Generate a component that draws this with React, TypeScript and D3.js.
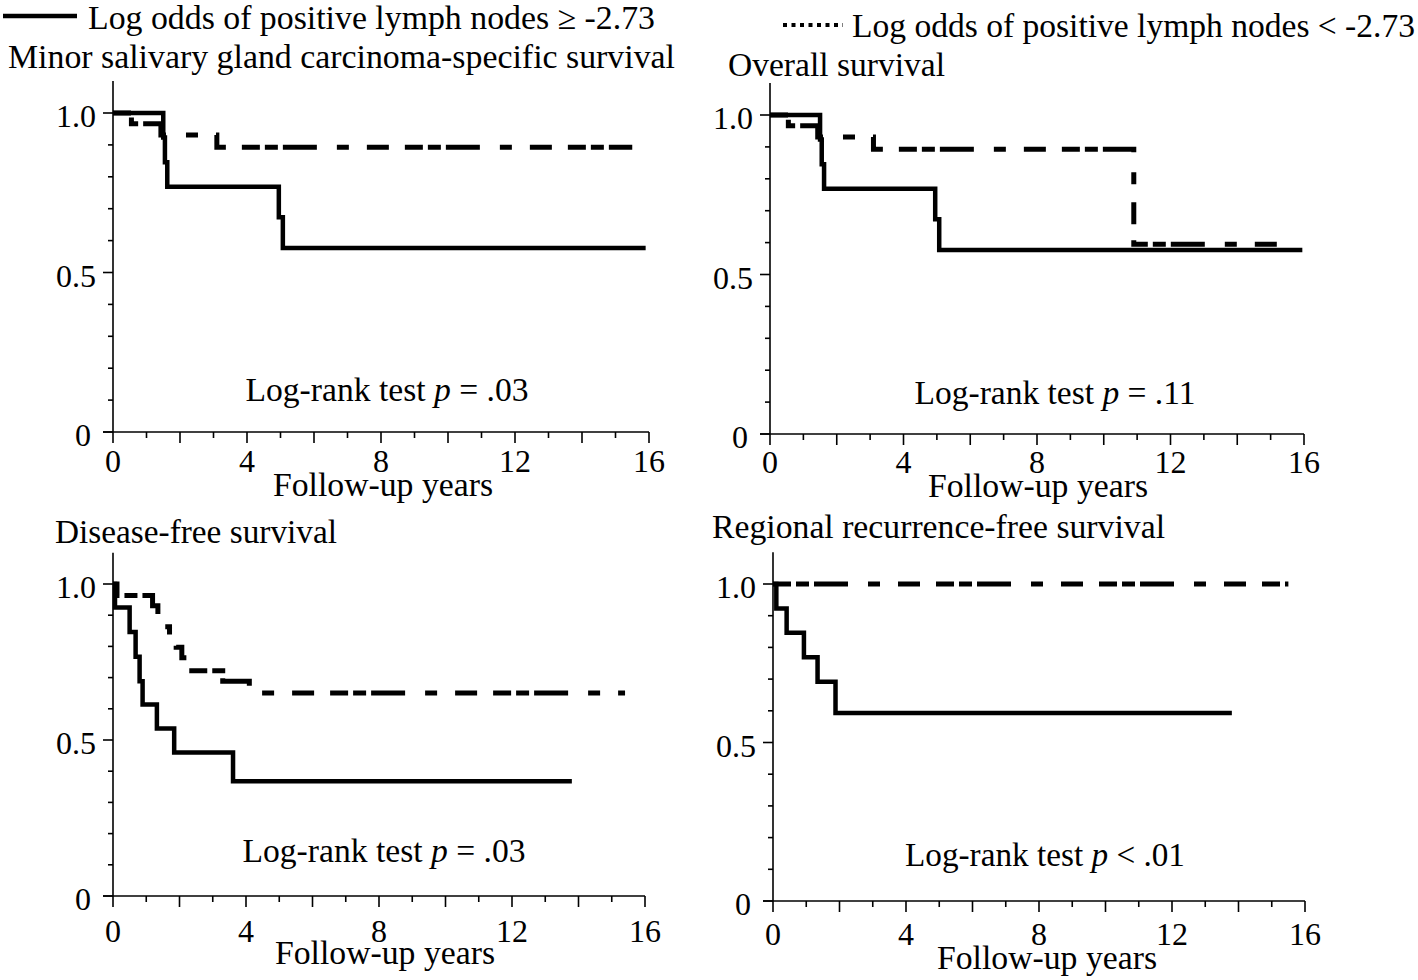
import React from "react";
import * as d3 from "d3";

// ---------- data ----------
const xTicks = d3.range(0, 17, 1);
const xTickLabels = [0, 4, 8, 12, 16];
const yTicks = d3.range(0, 11, 1).map((d) => d / 10);
const yTickLabels = ["0", "0.5", "1.0"];
const yTickLabelValues = [0, 0.5, 1.0];

const legendHigh = "Log odds of positive lymph nodes \u2265 -2.73";
const legendLow = "Log odds of positive lymph nodes < -2.73";

const panelTitles = [
  "Minor salivary gland carcinoma-specific survival",
  "Overall survival",
  "Disease-free survival",
  "Regional recurrence-free survival",
];
const pTexts = ["= .03", "= .11", "= .03", "< .01"];

// Minor salivary gland carcinoma-specific survival
const cssHighT = [0, 1.5, 1.55, 1.62, 4.95, 5.07];
const cssHighS = [1, 0.923, 0.846, 0.769, 0.673, 0.577];
const cssHighEnd = 15.9;
const cssLowT = [0, 0.55, 1.43, 3.1];
const cssLowS = [1, 0.966, 0.931, 0.893];
const cssLowEnd = 15.5;

// Overall survival
const osHighT = [0, 1.5, 1.55, 1.62, 4.95, 5.07];
const osHighS = [1, 0.923, 0.846, 0.769, 0.673, 0.577];
const osHighEnd = 15.95;
const osLowT = [0, 0.55, 1.43, 3.1, 10.9];
const osLowS = [1, 0.966, 0.931, 0.893, 0.595];
const osLowEnd = 15.6;

// Disease-free survival
const dfsHighT = [0, 0.06, 0.5, 0.68, 0.8, 0.89, 1.32, 1.84, 3.61];
const dfsHighS = [1, 0.925, 0.846, 0.767, 0.688, 0.614, 0.537, 0.46, 0.368];
const dfsHighEnd = 13.8;
const dfsLowT = [0, 0.12, 1.19, 1.35, 1.49, 1.7, 1.9, 2.07, 2.28, 3.3, 4.1];
const dfsLowS = [1, 0.963, 0.93, 0.897, 0.863, 0.83, 0.797, 0.764, 0.722, 0.688, 0.651];
const dfsLowEnd = 15.4;

// Regional recurrence-free survival
const rrfsHighT = [0, 0.1, 0.41, 0.93, 1.34, 1.88];
const rrfsHighS = [1, 0.923, 0.846, 0.769, 0.692, 0.593];
const rrfsHighEnd = 13.8;
const rrfsLowT = [0];
const rrfsLowS = [1];
const rrfsLowEnd = 15.5;

const seriesHigh = [
  { t: cssHighT, s: cssHighS, end: cssHighEnd },
  { t: osHighT, s: osHighS, end: osHighEnd },
  { t: dfsHighT, s: dfsHighS, end: dfsHighEnd },
  { t: rrfsHighT, s: rrfsHighS, end: rrfsHighEnd },
];
const seriesLow = [
  { t: cssLowT, s: cssLowS, end: cssLowEnd },
  { t: osLowT, s: osLowS, end: osLowEnd },
  { t: dfsLowT, s: dfsLowS, end: dfsLowEnd },
  { t: rrfsLowT, s: rrfsLowS, end: rrfsLowEnd },
];

// ---------- layout ----------
const layouts = [
  { x0: 113, x16: 649, y0: 432, y1: 113, title: [8, 68, 667], lr: [387, 401, 283], fu: [383, 496], xlab: 40 },
  { x0: 770, x16: 1304, y0: 434, y1: 115, title: [728, 76, 217], lr: [1055, 404, 281], fu: [1038, 497], xlab: 39 },
  { x0: 113, x16: 645, y0: 896, y1: 584, title: [55, 543, 282], lr: [384, 862, 283], fu: [385, 964], xlab: 46 },
  { x0: 773, x16: 1305, y0: 901, y1: 584, title: [712, 538, 453], lr: [1045, 866, 280], fu: [1047, 969], xlab: 44 },
];

const FONT = "'Liberation Serif', 'Times New Roman', Times, serif";
const DASH = "18 5 13 5 34 20 12 18 22 16";
const FS = 33;

function Panel({ i }: { i: number }) {
  const L = layouts[i];
  const x = d3.scaleLinear().domain([0, 16]).range([L.x0, L.x16]);
  const y = d3.scaleLinear().domain([0, 1]).range([L.y0, L.y1]);
  const line = d3
    .line<[number, number]>()
    .x((d) => x(d[0]))
    .y((d) => y(d[1]))
    .curve(d3.curveStepAfter);
  const mk = (ser: { t: number[]; s: number[]; end: number }) => {
    const pts: [number, number][] = ser.t.map((t, k) => [t, ser.s[k]]);
    pts.push([ser.end, ser.s[ser.s.length - 1]]);
    return line(pts) || "";
  };
  return (
    <g>
      <text x={L.title[0]} y={L.title[1]} fontSize={FS} textLength={L.title[2]} lengthAdjust="spacingAndGlyphs">
        {panelTitles[i]}
      </text>
      {/* axes */}
      <line x1={x(0)} x2={x(0)} y1={y(0)} y2={y(1.1)} stroke="#000" strokeWidth={1.6} />
      <line x1={x(0) - 10} x2={x(16)} y1={y(0)} y2={y(0)} stroke="#000" strokeWidth={1.6} />
      {yTicks.map((v) => {
        const major = Math.abs(v * 2 - Math.round(v * 2)) < 1e-6;
        return (
          <line key={"yt" + v} x1={x(0) - (major ? 10 : 5)} x2={x(0)} y1={y(v)} y2={y(v)} stroke="#000" strokeWidth={1.6} />
        );
      })}
      {xTicks.map((v) => (
        <line key={"xt" + v} x1={x(v)} x2={x(v)} y1={y(0)} y2={y(0) + (v % 2 === 0 ? 11 : 6)} stroke="#000" strokeWidth={1.6} />
      ))}
      {yTickLabels.map((lab, k) => (
        <text key={"yl" + k} x={x(0) - (lab === "0" ? 22 : 17)} y={y(yTickLabelValues[k]) + 14} fontSize={32} textAnchor="end">
          {lab}
        </text>
      ))}
      {xTickLabels.map((v) => (
        <text key={"xl" + v} x={x(v)} y={y(0) + L.xlab} fontSize={32} textAnchor="middle">
          {v}
        </text>
      ))}
      <text x={L.fu[0]} y={L.fu[1]} fontSize={FS} textAnchor="middle" textLength={220} lengthAdjust="spacingAndGlyphs">
        Follow-up years
      </text>
      <text x={L.lr[0]} y={L.lr[1]} fontSize={FS} textAnchor="middle" textLength={L.lr[2]} lengthAdjust="spacingAndGlyphs">
        Log-rank test <tspan fontStyle="italic">p</tspan> {pTexts[i]}
      </text>
      {/* curves */}
      <path d={mk(seriesLow[i])} fill="none" stroke="#000" strokeWidth={5} strokeDasharray={DASH} />
      <path d={mk(seriesHigh[i])} fill="none" stroke="#000" strokeWidth={4.5} />
    </g>
  );
}

export default function App() {
  return (
    <svg
      width={1418}
      height={980}
      style={{ position: "absolute", left: 0, top: 0, background: "#fff" }}
      fontFamily={FONT}
      fill="#000"
    >
      <rect x={0} y={0} width={1418} height={980} fill="#fff" />
      {/* legend */}
      <line x1={3} x2={77} y1={16} y2={16} stroke="#000" strokeWidth={4.5} />
      <text x={88} y={29} fontSize={FS} textLength={567} lengthAdjust="spacingAndGlyphs">
        {legendHigh}
      </text>
      <line x1={783} x2={843} y1={25} y2={25} stroke="#000" strokeWidth={4} strokeDasharray="4 4.5" />
      <text x={852} y={37} fontSize={FS} textLength={563} lengthAdjust="spacingAndGlyphs">
        {legendLow}
      </text>
      {[0, 1, 2, 3].map((i) => (
        <Panel key={i} i={i} />
      ))}
    </svg>
  );
}
